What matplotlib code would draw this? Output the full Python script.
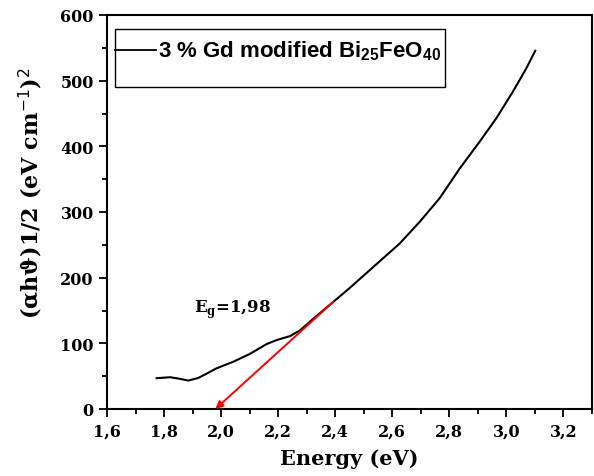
import matplotlib
matplotlib.use("Agg")
import matplotlib.pyplot as plt
from matplotlib.ticker import MultipleLocator, FuncFormatter
from matplotlib.patches import Rectangle
from matplotlib.lines import Line2D

# data
energy = [1.774, 1.821, 1.855, 1.885, 1.920, 1.950, 1.984, 2.043, 2.101, 2.160, 2.195,
          2.241, 2.276, 2.330, 2.393, 2.450, 2.556, 2.626, 2.696, 2.766, 2.836,
          2.906, 2.965, 3.023, 3.070, 3.101]
absorb = [46.9, 48.4, 46.0, 43.3, 47.3, 54.0, 62.0, 72.0, 84.0, 99.0, 105.0,
          111.0, 119.5, 140.0, 163.0, 184.0, 225.0, 252.0, 285.0, 321.0, 366.0,
          407.0, 443.0, 483.5, 519.0, 545.5]
fit_x = [2.393, 1.98]
fit_y = [163.0, 0.0]
eg_label = "E$_\\mathregular{g}$=1,98"
legend_label = "3 % Gd modified Bi$_\\mathregular{25}$FeO$_\\mathregular{40}$"

serif = "DejaVu Serif"

fig = plt.figure(figsize=(5.94, 4.77), dpi=100)
ax = fig.add_axes([107/594, 1 - 410/477, (592-107)/594, (410-16)/477])

ax.plot(energy, absorb, color="black", lw=1.5)
ax.annotate("", xy=(fit_x[1], fit_y[1]), xytext=(fit_x[0], fit_y[0]),
            arrowprops=dict(arrowstyle="-|>", color="red", lw=1.4,
                            mutation_scale=11, shrinkA=0, shrinkB=0))
ax.text(1.905, 152, eg_label, fontsize=12, fontweight="bold", family=serif,
        va="center", ha="left")

ax.set_xlim(1.6, 3.3)
ax.set_ylim(0, 600)
ax.xaxis.set_major_locator(MultipleLocator(0.2))
ax.xaxis.set_minor_locator(MultipleLocator(0.1))
ax.yaxis.set_major_locator(MultipleLocator(100))
ax.yaxis.set_minor_locator(MultipleLocator(50))
ax.xaxis.set_major_formatter(FuncFormatter(lambda v, p: f"{v:.1f}".replace(".", ",")))
ax.tick_params(which="both", direction="out", top=False, right=False, width=1.3)
ax.tick_params(which="major", length=6, labelsize=11.5)
ax.tick_params(which="minor", length=3.5)
for lab in ax.get_xticklabels() + ax.get_yticklabels():
    lab.set_family(serif)
    lab.set_fontweight("bold")
for s in ax.spines.values():
    s.set_linewidth(1.5)

ax.set_xlabel("Energy (eV)", fontsize=15, fontweight="bold", family=serif, labelpad=6)
ax.set_ylabel("(\u03b1h\u03d1)1/2 (eV cm$^{-1}$)$^{2}$", fontsize=16,
              fontweight="bold", family=serif)
ax.yaxis.set_label_coords(-0.128, 0.55)

# Origin-style legend box
ax.add_patch(Rectangle((0.017, 0.816), 0.68, 0.148, transform=ax.transAxes,
                       fill=False, edgecolor="black", lw=1.0))
ax.add_line(Line2D([0.017, 0.1], [0.91, 0.91], transform=ax.transAxes,
                   color="black", lw=1.3))
ax.text(0.106, 0.91, legend_label, transform=ax.transAxes, fontsize=16,
        fontweight="bold", family="Liberation Sans", va="center", ha="left")

fig.savefig("out.png", dpi=100)
